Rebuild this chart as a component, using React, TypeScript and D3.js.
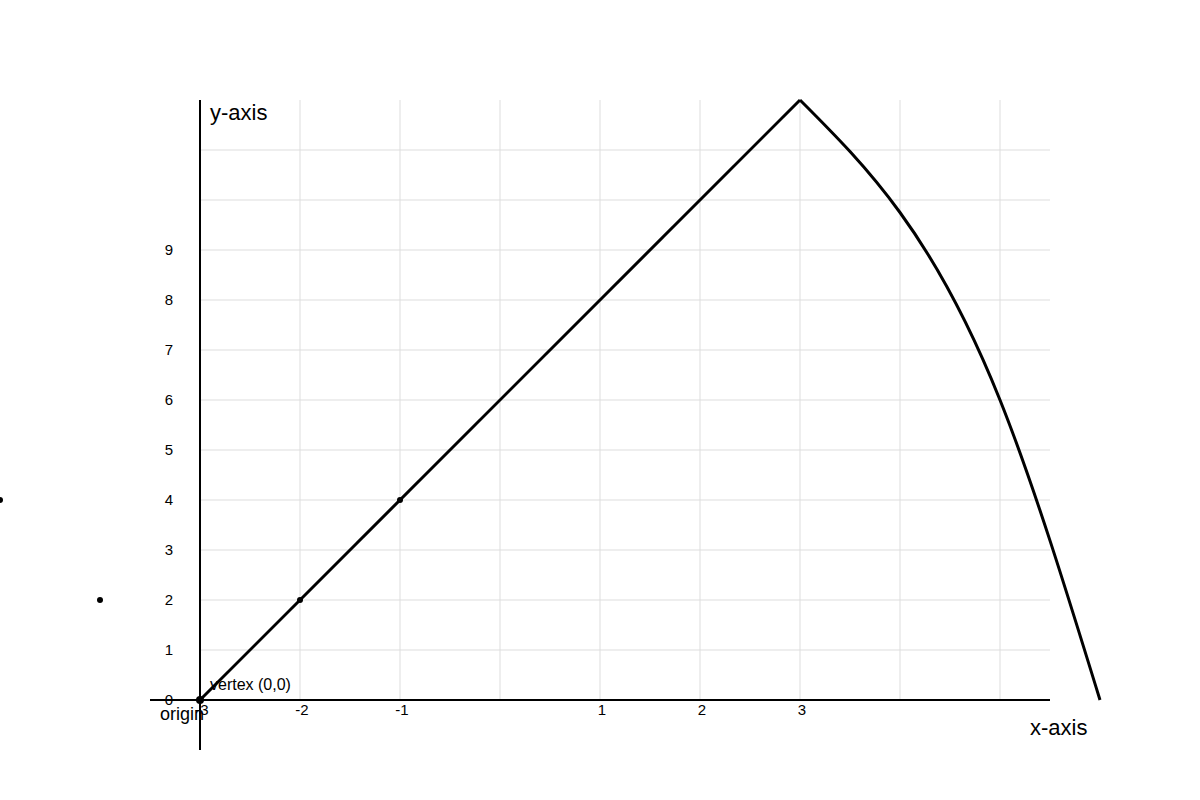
import * as d3 from 'd3';

const W = 1200;
const H = 800;

// axis ticks
const xTickValues = [-3, -2, -1, 1, 2, 3];
const yTickValues = [0, 1, 2, 3, 4, 5, 6, 7, 8, 9];
const xGridValues = [-3, -2, -1, 0, 1, 2, 3, 4, 5];
const yGridValues = [1, 2, 3, 4, 5, 6, 7, 8, 9, 10, 11];

// straight rising segment
const riseX = [-3, 3];
const riseY = [0, 12];

// falling curve
const fallX = [3, 4, 5, 6];
const fallY = [12, 9.75, 6, 0];

// scatter dots
const dotX = [-5, -4, -3, -2, -1];
const dotY = [4, 2, 0, 2, 4];
const dotR = [3, 3, 4, 3, 3];

const FONT = 'Liberation Sans, Arial, sans-serif';

export default function App() {
  const x = d3.scaleLinear().domain([-3, 5.5]).range([200, 1050]);
  const y = d3.scaleLinear().domain([0, 12]).range([700, 100]);

  const rise = riseX.map((v, i) => [v, riseY[i]] as [number, number]);
  const fall = fallX.map((v, i) => [v, fallY[i]] as [number, number]);

  const linePath = d3.line<[number, number]>().x(d => x(d[0])).y(d => y(d[1]));
  const curvePath = d3.line<[number, number]>().x(d => x(d[0])).y(d => y(d[1])).curve(d3.curveNatural);

  const [x0, x1] = x.range();
  const [yBottom, yTop] = y.range();

  return (
    <svg width={W} height={H} style={{ position: 'absolute', left: 0, top: 0, background: '#fff' }}>
      {/* Grid */}
      <g stroke="#dddddd" strokeWidth={1}>
        {xGridValues.map(v => (
          <line key={`gx${v}`} x1={x(v)} x2={x(v)} y1={yTop} y2={yBottom} />
        ))}
        {yGridValues.map(v => (
          <line key={`gy${v}`} x1={x0} x2={x1} y1={y(v)} y2={y(v)} />
        ))}
      </g>

      {/* Axes */}
      <line x1={150} x2={x1} y1={y(0)} y2={y(0)} stroke="#000" strokeWidth={2} />
      <line x1={x(-3)} x2={x(-3)} y1={yTop} y2={750} stroke="#000" strokeWidth={2} />

      {/* Tick labels */}
      <g fontFamily={FONT} fontSize={15} fill="#000">
        {xTickValues.map(v => (
          <text key={`tx${v}`} x={x(v) + 2} y={y(0) + 15} textAnchor="middle">{v}</text>
        ))}
        {yTickValues.map(v => (
          <text key={`ty${v}`} x={169} y={y(v) + 5} textAnchor="middle">{v}</text>
        ))}
      </g>

      {/* Lines */}
      <path d={linePath(rise) ?? ''} fill="none" stroke="#000" strokeWidth={3} />
      <path d={curvePath(fall) ?? ''} fill="none" stroke="#000" strokeWidth={3} />

      {/* Dots */}
      {dotX.map((v, i) => (
        <circle key={`d${i}`} cx={x(v)} cy={y(dotY[i])} r={dotR[i]} fill="#000" />
      ))}

      {/* Labels */}
      <text x={210} y={120} fontFamily={FONT} fontSize={22} fill="#000">y-axis</text>
      <text x={1030} y={735} fontFamily={FONT} fontSize={22} fill="#000">x-axis</text>
      <text x={210} y={690} fontFamily={FONT} fontSize={16} fill="#000">vertex (0,0)</text>
      <text x={160} y={720} fontFamily={FONT} fontSize={18} fill="#000">origin</text>
    </svg>
  );
}
